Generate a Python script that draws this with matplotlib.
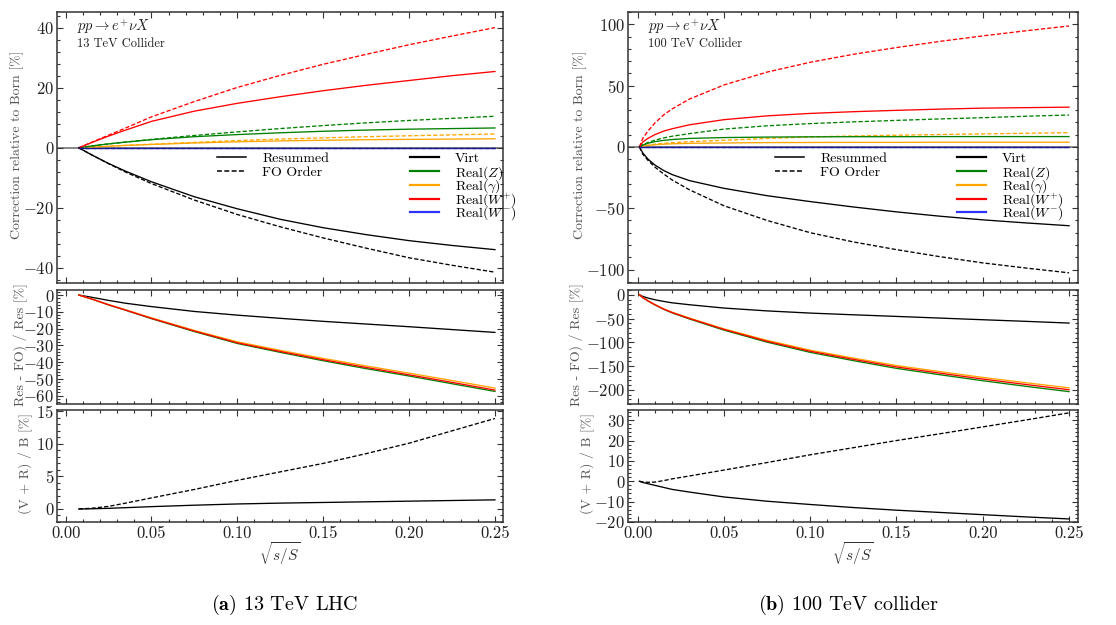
import numpy as np
import matplotlib
matplotlib.use("Agg")
import matplotlib.pyplot as plt
from matplotlib.ticker import MultipleLocator, AutoMinorLocator
from matplotlib.lines import Line2D
from matplotlib.legend import Legend

plt.rcParams['font.family'] = 'serif'
plt.rcParams['font.serif'] = ['cmr10', 'DejaVu Serif']
plt.rcParams['mathtext.fontset'] = 'cm'
plt.rcParams['axes.formatter.use_mathtext'] = True
plt.rcParams['axes.unicode_minus'] = True

# ---------------- 13 TeV data ----------------
x13 = [0.0077, 0.015, 0.025, 0.035, 0.05, 0.075, 0.10, 0.125, 0.15, 0.175, 0.20, 0.225, 0.25]
virt_res_13 = [0, -2.3, -5.2, -7.8, -11.3, -16.3, -20.3, -23.8, -26.6, -28.9, -30.9, -32.5, -33.9]
virt_fo_13 = [0, -2.3, -5.3, -8.1, -11.9, -17.4, -22.2, -26.3, -30.0, -33.4, -36.6, -39.1, -41.4]
z_res_13 = [0, 0.6, 1.3, 1.9, 2.7, 3.7, 4.4, 5.0, 5.5, 5.9, 6.2, 6.4, 6.6]
z_fo_13 = [0, 0.6, 1.3, 1.9, 2.8, 4.1, 5.3, 6.4, 7.4, 8.3, 9.1, 9.8, 10.5]
gam_res_13 = [0, 0.2, 0.5, 0.8, 1.1, 1.6, 2.0, 2.3, 2.5, 2.7, 2.8, 2.9, 3.0]
gam_fo_13 = [0, 0.2, 0.5, 0.8, 1.2, 1.8, 2.4, 2.9, 3.3, 3.7, 4.0, 4.3, 4.6]
wp_res_13 = [0, 1.7, 3.9, 5.9, 8.8, 12.2, 14.8, 17.0, 19.0, 20.8, 22.4, 24.0, 25.4]
wp_fo_13 = [0, 1.8, 4.2, 6.6, 10.3, 15.4, 20.1, 24.1, 27.8, 31.1, 34.3, 37.2, 40.0]
wm_res_13 = [0, 0, 0, 0, 0, 0, 0, 0, 0, 0, 0, 0, 0]
wm_fo_13 = [0, 0, 0, 0, 0, 0, 0, 0, 0, 0, 0, 0, 0]

virt_diff_13 = [0, -1.3, -3.2, -4.9, -6.9, -9.8, -12.0, -13.9, -15.7, -17.3, -18.9, -20.6, -22.3]
z_diff_13 = [0, -2.3, -5.9, -9.1, -14.1, -21.8, -28.9, -34.2, -39.2, -43.9, -48.3, -52.9, -57.5]
gam_diff_13 = [0, -2.3, -5.7, -8.8, -13.6, -21.1, -27.9, -33.0, -37.8, -42.3, -46.6, -51.0, -55.5]
wp_diff_13 = [0, -2.3, -5.8, -9.0, -13.9, -21.5, -28.5, -33.7, -38.6, -43.2, -47.6, -52.1, -56.7]

vr_res_13 = [0, 0.03, 0.1, 0.2, 0.36, 0.58, 0.77, 0.9, 1.0, 1.1, 1.2, 1.3, 1.4]
vr_fo_13 = [0, 0.1, 0.4, 0.9, 1.7, 3.0, 4.4, 5.7, 7.0, 8.5, 10.1, 12.0, 13.9]

# ---------------- 100 TeV data ----------------
x100 = [0.001, 0.003, 0.006, 0.01, 0.015, 0.02, 0.03, 0.05, 0.075, 0.10, 0.125, 0.15, 0.175, 0.20, 0.225, 0.25]
virt_res_100 = [0, -5, -10, -14.8, -19.2, -22.6, -27.5, -33.8, -39.8, -44.6, -49.0, -53.0, -56.5, -59.5, -62.0, -64.3]
virt_fo_100 = [0, -6, -11, -16.5, -22, -27, -35, -48, -60, -70, -77.5, -83.8, -89.5, -94.6, -98.8, -102.7]
z_res_100 = [0, 1.5, 3, 4.3, 5.3, 6.0, 6.9, 7.6, 8.0, 8.2, 8.3, 8.3, 8.4, 8.4, 8.4, 8.4]
z_fo_100 = [0, 1.8, 3.6, 5.5, 7.3, 8.7, 10.8, 14.5, 17.2, 19, 20.4, 21.6, 22.8, 23.8, 25, 26]
gam_res_100 = [0, 0.6, 1.2, 1.7, 2.2, 2.5, 2.9, 3.2, 3.5, 3.6, 3.7, 3.7, 3.8, 3.8, 3.8, 3.8]
gam_fo_100 = [0, 0.8, 1.5, 2.2, 2.9, 3.4, 4.2, 5.4, 6.9, 8.1, 8.9, 9.5, 10.1, 10.6, 11.1, 11.6]
wp_res_100 = [0, 4, 7, 10, 12.8, 14.8, 18, 22.2, 25.3, 27.3, 28.7, 29.8, 30.8, 31.6, 32.0, 32.4]
wp_fo_100 = [0, 7, 13, 19.5, 26, 31, 39, 50.5, 61, 69, 75.5, 81, 86, 90.5, 94.7, 98.6]
wm_res_100 = [0, 0, 0, 0, 0, 0, 0, 0, 0, 0, 0, 0, 0, 0, 0, 0]
wm_fo_100 = [0, 0, 0, 0, 0, 0, 0, 0, 0, 0, 0, 0, 0, 0, 0, 0]

virt_diff_100 = [0, -3.5, -7, -10.5, -14, -17, -21, -28, -34, -38.6, -42.2, -45.6, -49.1, -52.6, -56, -59.6]
z_diff_100 = [0, -6.1, -13.2, -21.4, -30.6, -38.2, -51, -74.5, -99.8, -121.3, -138.7, -155, -168.3, -181, -192.8, -204]
gam_diff_100 = [0, -5.9, -12.8, -20.6, -29.5, -36.8, -49, -71.8, -96, -116.7, -133.3, -149, -161.7, -174, -185.2, -196]
wp_diff_100 = [0, -6, -13, -21, -30, -37.5, -50, -73, -98, -119, -136, -152, -165, -177.5, -189, -200]

vr_res_100 = [0, -0.6, -1.2, -2, -3, -4, -5.3, -7.7, -9.8, -11.4, -12.9, -14.2, -15.3, -16.4, -17.5, -18.5]
vr_fo_100 = [0, -0.3, -0.5, -0.4, 0.3, 1.2, 2.6, 5.5, 9.2, 13, 16.5, 20, 23.3, 26.7, 30.1, 33.6]

xticks = [0.00, 0.05, 0.10, 0.15, 0.20, 0.25]
legend_styles = ["Resummed", "FO Order"]
legend_procs = ["Virt", r"Real$(Z)$", r"Real$(\gamma)$", r"Real$(W^{+})$", r"Real$(W^{-})$"]
captions = [r"$\mathbf{(a)}$ 13 TeV LHC", r"$\mathbf{(b)}$ 100 TeV collider"]
titles = [r"$pp \rightarrow e^{+}\nu X$", r"$pp \rightarrow e^{+}\nu X$"]
subtitles = ["13 TeV Collider", "100 TeV Collider"]

C_BLACK = "black"
C_GREEN = "#008000"
C_ORANGE = "#ffa500"
C_RED = "#ff0000"
C_BLUE = "#1a1a99"
LABEL_GRAY = "#555555"
FRAME = "#333333"
LW = 0.95
DASH = (0, (3.2, 1.6))

fig = plt.figure(figsize=(11.16, 6.25), dpi=100)

W, H = 1116.0, 625.0
def frac(x0, x1, ytop, ybot):
    return [x0 / W, 1 - ybot / H, (x1 - x0) / W, (ybot - ytop) / H]

# legend rows (axes fraction of the top panel)
leg_rows = [0.4576, 0.4070, 0.3565, 0.3063, 0.2561]

panels = [
    dict(x0=57, x1=503, x=x13,
         top=dict(ylim=(-45, 45.2), major=20),
         mid=dict(ylim=(-65, 3), major=10),
         bot=dict(ylim=(-2, 15.2), major=5),
         xlim=(-0.005, 0.2547),
         ylab_x=(-0.073, -0.066, -0.053),
         leg1_x=0.359, leg2_x=0.791,
         data=dict(virt=(virt_res_13, virt_fo_13), z=(z_res_13, z_fo_13),
                   gam=(gam_res_13, gam_fo_13), wp=(wp_res_13, wp_fo_13),
                   wm=(wm_res_13, wm_fo_13)),
         diff=dict(virt=virt_diff_13, z=z_diff_13, gam=gam_diff_13, wp=wp_diff_13),
         vr=(vr_res_13, vr_fo_13)),
    dict(x0=628, x1=1078, x=x100,
         top=dict(ylim=(-111, 110), major=50),
         mid=dict(ylim=(-230, 10), major=50),
         bot=dict(ylim=(-20, 35), major=10),
         xlim=(-0.0056, 0.2552),
         ylab_x=(-0.092, -0.097, -0.074),
         leg1_x=0.327, leg2_x=0.731,
         data=dict(virt=(virt_res_100, virt_fo_100), z=(z_res_100, z_fo_100),
                   gam=(gam_res_100, gam_fo_100), wp=(wp_res_100, wp_fo_100),
                   wm=(wm_res_100, wm_fo_100)),
         diff=dict(virt=virt_diff_100, z=z_diff_100, gam=gam_diff_100, wp=wp_diff_100),
         vr=(vr_res_100, vr_fo_100)),
]

def style(ax, p, spec, showx):
    ax.set_xlim(*p["xlim"])
    ax.set_ylim(*spec["ylim"])
    ax.set_xticks(xticks)
    ax.xaxis.set_minor_locator(MultipleLocator(0.01))
    ax.yaxis.set_major_locator(MultipleLocator(spec["major"]))
    ax.yaxis.set_minor_locator(AutoMinorLocator(5))
    ax.tick_params(which="both", direction="in", top=True, right=True,
                   colors=FRAME, labelcolor="#222222", labelsize=12, width=0.8)
    ax.tick_params(which="major", length=4.5)
    ax.tick_params(which="minor", length=2.3)
    ax.tick_params(axis="y", pad=2)
    ax.tick_params(axis="x", pad=3)
    if showx:
        ax.xaxis.set_major_formatter(matplotlib.ticker.FormatStrFormatter("%.2f"))
    else:
        ax.tick_params(axis="x", labelbottom=False)
    for s in ax.spines.values():
        s.set_color(FRAME)
        s.set_linewidth(1.1)

colors = dict(virt=C_BLACK, z=C_GREEN, gam=C_ORANGE, wp=C_RED, wm=C_BLUE)

def one_entry(ax, handle, label, x, y):
    leg = Legend(ax, [handle], [label], loc="center left", bbox_to_anchor=(x, y),
                 frameon=False, fontsize=10, handlelength=2.1, handletextpad=1.15,
                 borderpad=0, borderaxespad=0)
    ax.add_artist(leg)

for i, p in enumerate(panels):
    x = p["x"]
    ax1 = fig.add_axes(frac(p["x0"], p["x1"], 12, 283))
    ax2 = fig.add_axes(frac(p["x0"], p["x1"], 290, 404))
    ax3 = fig.add_axes(frac(p["x0"], p["x1"], 410, 522))

    # top panel
    ax1.axhline(0, color="#808080", lw=1.3, zorder=1)
    for key in ["gam", "z", "wp", "virt", "wm"]:
        res, fo = p["data"][key]
        ax1.plot(x, res, color=colors[key], lw=LW, zorder=3)
        ax1.plot(x, fo, color=colors[key], lw=LW, ls=DASH, zorder=3)
    style(ax1, p, p["top"], False)
    ax1.set_ylabel("Correction relative to Born [%]", color=LABEL_GRAY, fontsize=10)
    ax1.yaxis.set_label_coords(p["ylab_x"][0], 0.51)
    ax1.text(0.045, 0.945, titles[i], transform=ax1.transAxes, fontsize=10.5,
             va="center", ha="left", color="#222222")
    ax1.text(0.045, 0.882, subtitles[i], transform=ax1.transAxes, fontsize=9,
             va="center", ha="left", color="#222222")

    # legends
    style_handles = [Line2D([], [], color="black", lw=1.1),
                     Line2D([], [], color="black", lw=1.1, ls=DASH)]
    for j, (h, lab) in enumerate(zip(style_handles, legend_styles)):
        one_entry(ax1, h, lab, p["leg1_x"], leg_rows[j])
    proc_colors = [C_BLACK, C_GREEN, C_ORANGE, C_RED, "#3333ff"]
    for j, (c, lab) in enumerate(zip(proc_colors, legend_procs)):
        one_entry(ax1, Line2D([], [], color=c, lw=1.6), lab, p["leg2_x"], leg_rows[j])

    # middle panel
    ax2.plot(x, p["diff"]["virt"], color=C_BLACK, lw=LW)
    ax2.plot(x, p["diff"]["z"], color=C_GREEN, lw=LW)
    ax2.plot(x, p["diff"]["gam"], color=C_ORANGE, lw=LW)
    ax2.plot(x, p["diff"]["wp"], color=C_RED, lw=LW)
    style(ax2, p, p["mid"], False)
    ax2.set_ylabel("Res - FO) / Res [%]", color=LABEL_GRAY, fontsize=10)
    ax2.yaxis.set_label_coords(p["ylab_x"][1], 0.52)

    # bottom panel
    ax3.plot(x, p["vr"][0], color=C_BLACK, lw=LW)
    ax3.plot(x, p["vr"][1], color=C_BLACK, lw=LW, ls=DASH)
    style(ax3, p, p["bot"], True)
    ax3.set_ylabel("(V + R) / B [%]", color=LABEL_GRAY, fontsize=10)
    ax3.yaxis.set_label_coords(p["ylab_x"][2], 0.52)
    ax3.set_xlabel(r"$\sqrt{s/S}$", fontsize=11, color="#333333", labelpad=-1)

fig.text(285 / W, 1 - 605 / H, captions[0], ha="center", va="center", fontsize=14.5)
fig.text(848 / W, 1 - 605 / H, captions[1], ha="center", va="center", fontsize=14.5)

fig.savefig("out.png", dpi=100)
